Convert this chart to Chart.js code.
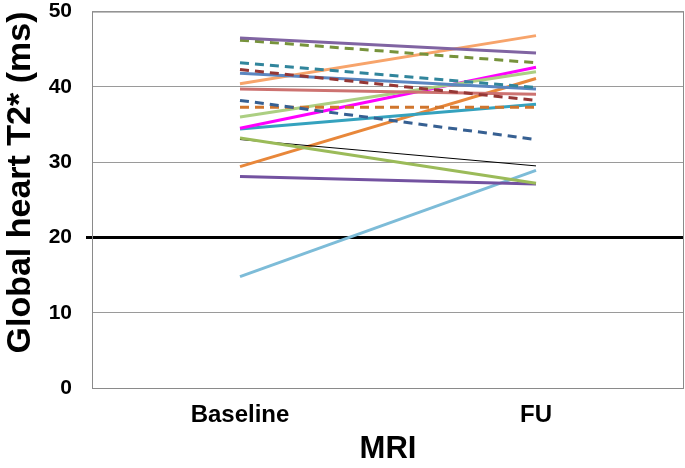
<!DOCTYPE html>
<html>
<head>
<meta charset="utf-8">
<script src="https://cdn.jsdelivr.net/npm/chart.js@4"></script>
<style>
  html, body { margin: 0; padding: 0; background: #fff; }
  #wrap { width: 685px; height: 468px; }
</style>
</head>
<body>
<div id="wrap"><canvas id="lineas"></canvas></div>
<script>
// datos del grafico
var categorias = ["Baseline", "FU"];
var valoresBaseline = [46.5, 46.2, 43.2, 42.3, 41.8, 40.4, 39.7, 38.2, 37.3, 36.0, 34.5, 34.4, 33.2, 33.0, 29.4, 28.1, 14.8];
var valoresFU = [44.5, 43.2, 39.9, 38.2, 39.7, 46.8, 39.0, 33.0, 37.3, 42.0, 42.6, 37.7, 27.2, 29.5, 41.1, 27.1, 28.9];
var ticksY = [0, 10, 20, 30, 40, 50];

// estilos de cada paciente
var colores = ["#8064A2", "#77933C", "#31859C", "#953735", "#5B86C0", "#F7A46B", "#CD7371", "#376092", "#D0752D",
    "#ACCF82", "#FF00FF", "#35A2BE", "#9BBB59", "#000000", "#E8873A", "#7352A0", "#7DBCD8"];
var discontinuas = [false, true, true, true, false, false, false, true, true, false, false, false, false, false, false, false, false];

var fuente = "'Liberation Sans', Arial, sans-serif";

// borde gris alrededor del area del grafico
var marco = {
    id: "marco",
    afterDraw: function (chart) {
        var a = chart.chartArea;
        var ctx = chart.ctx;
        ctx.save();
        ctx.strokeStyle = "#8a8a8a";
        ctx.lineWidth = 1;
        ctx.strokeRect(a.left + 0.5, a.top + 0.5, a.right - a.left - 1, a.bottom - a.top);
        ctx.restore();
    },
};

function es20(c) {
    return c.tick && c.tick.value === 20;
}

function cargaGraficoLinea() {
    var datasets = valoresBaseline.map(function (v, i) {
        return {
            label: "P" + (i + 1),
            data: [v, valoresFU[i]],
            borderColor: colores[i],
            backgroundColor: colores[i],
            borderWidth: colores[i] === "#000000" ? 1 : 3,
            borderDash: discontinuas[i] ? [9, 6] : [],
            pointRadius: 0,
            fill: false,
            tension: 0,
        };
    });

    new Chart(document.getElementById("lineas"), {
        type: "line",
        data: { labels: categorias, datasets: datasets },
        plugins: [marco],
        options: {
            responsive: true,
            maintainAspectRatio: false,
            animation: false,
            layout: { padding: { top: 0, right: 1, left: 0, bottom: 0 } },
            plugins: { legend: { display: false }, tooltip: { enabled: false } },
            scales: {
                x: {
                    offset: true,
                    grid: { display: false },
                    border: { display: false },
                    afterFit: function (axis) { axis.height = 80; },
                    ticks: { color: "#000", padding: 5, font: { family: fuente, size: 24, weight: "bold" } },
                    title: {
                        display: true,
                        text: "MRI",
                        color: "#000",
                        padding: { top: 0, bottom: 0 },
                        font: { family: fuente, size: 31, weight: "bold" },
                    },
                },
                y: {
                    min: 0,
                    max: 50,
                    afterBuildTicks: function (axis) {
                        axis.ticks = ticksY.map(function (t) { return { value: t }; });
                    },
                    afterFit: function (axis) { axis.width = 92; },
                    border: { display: false },
                    grid: {
                        color: function (c) { return es20(c) ? "#000" : "#9a9a9a"; },
                        lineWidth: function (c) { return es20(c) ? 3 : 1; },
                        tickColor: function (c) { return es20(c) ? "#000" : "rgba(0,0,0,0)"; },
                        tickBorderDash: [0, 14, 6, 100],
                        tickLength: 20,
                    },
                    ticks: { color: "#000", padding: 0, font: { family: fuente, size: 21, weight: "bold", lineHeight: 1.1 } },
                    title: {
                        display: true,
                        text: "Global heart T2* (ms)",
                        color: "#000",
                        align: "end",
                        padding: { top: 0, bottom: 0 },
                        font: { family: fuente, size: 34, weight: "bold" },
                    },
                },
            },
        },
    });
}

cargaGraficoLinea();
</script>
</body>
</html>
